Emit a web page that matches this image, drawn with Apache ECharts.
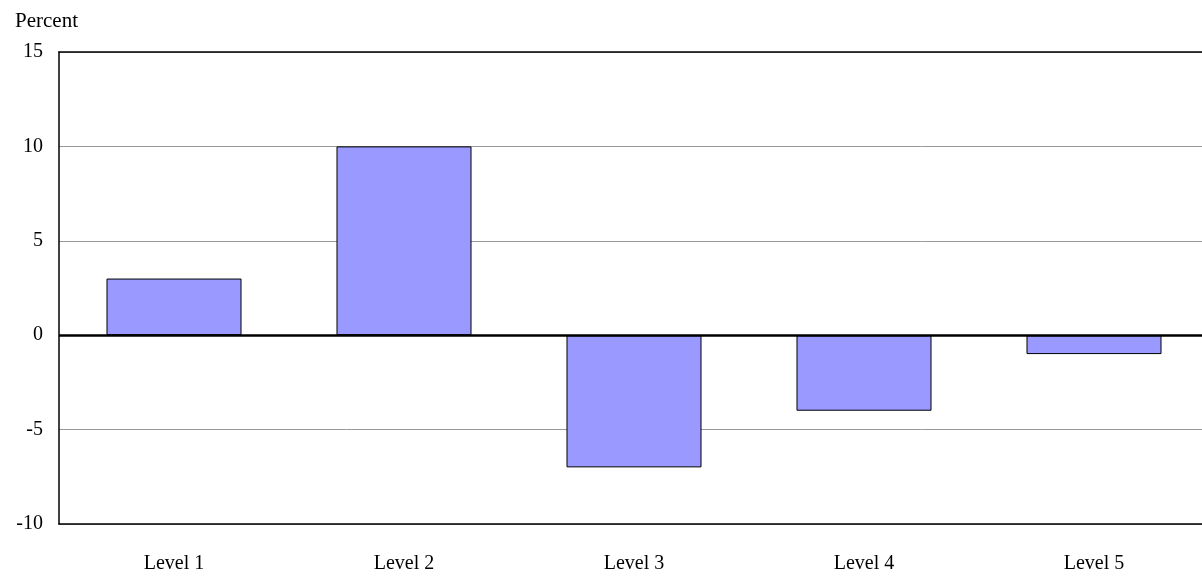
<!DOCTYPE html>
<html>
<head>
<meta charset="utf-8">
<script src="https://cdn.jsdelivr.net/npm/echarts@6/dist/echarts.min.js"></script>
<style>
  html, body { margin: 0; padding: 0; background: #fff; overflow: hidden; }
  /* plot runs past the right edge of the picture, so the canvas is a bit wider than the window */
  #chart { width: 1209px; height: 577px; }
</style>
</head>
<body>
<div id="chart"></div>
<script>
// data
const categories = ['Level 1', 'Level 2', 'Level 3', 'Level 4', 'Level 5']
const values = [3, 10, -7, -4, -1]
const yMin = -10
const yMax = 15
const yStep = 5

const font = '"Liberation Serif", "Times New Roman", serif'

const chart = echarts.init(document.getElementById('chart'))

const option = {
  animation: false,
  backgroundColor: '#fff',
  title: {
    text: 'Percent',
    left: 10,
    top: 6,
    textStyle: { fontFamily: font, fontSize: 21, fontWeight: 'normal', color: '#000' }
  },
  grid: {
    left: 59,
    top: 52,
    right: 0,
    bottom: 53
  },
  xAxis: [
    {
      type: 'category',
      data: categories,
      position: 'bottom',
      axisLine: { show: true, onZero: false, lineStyle: { color: '#000', width: 1.5 } },
      axisTick: { show: false },
      axisLabel: { margin: 30, fontFamily: font, fontSize: 20, color: '#000' }
    },
    {
      // top border of the plot
      type: 'category',
      data: categories,
      position: 'top',
      axisLine: { show: true, onZero: false, lineStyle: { color: '#000', width: 1.5 } },
      axisTick: { show: false },
      axisLabel: { show: false }
    }
  ],
  yAxis: {
    type: 'value',
    min: yMin,
    max: yMax,
    interval: yStep,
    axisLine: { show: true, lineStyle: { color: '#000', width: 1.5 } },
    axisTick: { show: false },
    axisLabel: { margin: 16, fontFamily: font, fontSize: 20, color: '#000' },
    splitLine: { show: true, lineStyle: { color: '#999', width: 1 } }
  },
  series: [
    {
      type: 'bar',
      data: values,
      barWidth: '58.7%',
      itemStyle: { color: '#9999ff', borderColor: '#000', borderWidth: 1 },
      markLine: {
        silent: true,
        symbol: 'none',
        label: { show: false },
        lineStyle: { color: '#000', width: 2.5, type: 'solid' },
        data: [{ yAxis: 0 }]
      }
    }
  ]
}

chart.setOption(option)
</script>
</body>
</html>
